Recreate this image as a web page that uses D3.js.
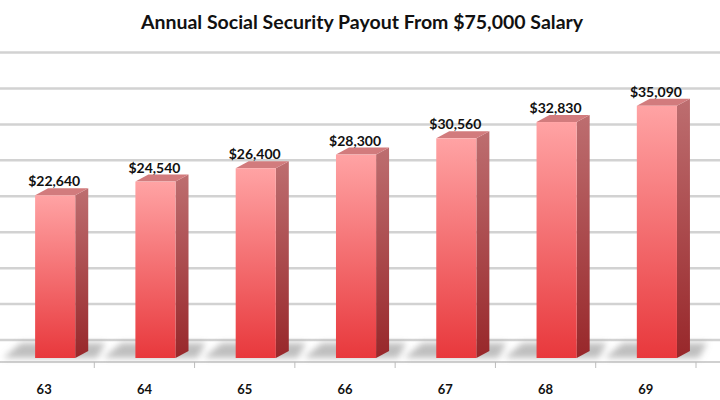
<!DOCTYPE html>
<html><head><meta charset="utf-8">
<script src="https://cdn.jsdelivr.net/npm/d3@7"></script>
<style>body{margin:0;background:#fff}</style></head><body>
<script>
const title = "Annual Social Security Payout From $75,000 Salary";
const ages = ["63","64","65","66","67","68","69"];
const payouts = [22640,24540,26400,28300,30560,32830,35090];
const gridTicks = [0,5000,10000,15000,20000,25000,30000,35000,40000];

const W = 720, H = 400;
const svg = d3.select("body").append("svg").attr("width", W).attr("height", H)
  .style("font-family", "Lato, 'Open Sans', sans-serif");
const defs = svg.append("defs");

const frontG = defs.append("linearGradient").attr("id","front").attr("x1",0).attr("y1",0).attr("x2",0).attr("y2",1);
frontG.append("stop").attr("offset","0%").attr("stop-color","#ffa3a4");
frontG.append("stop").attr("offset","100%").attr("stop-color","#e8383c");
const sideG = defs.append("linearGradient").attr("id","side").attr("x1",0).attr("y1",0).attr("x2",0).attr("y2",1);
sideG.append("stop").attr("offset","0%").attr("stop-color","#bd6e70");
sideG.append("stop").attr("offset","100%").attr("stop-color","#98272a");
const blur = defs.append("filter").attr("id","blur").attr("x","-50%").attr("y","-50%").attr("width","200%").attr("height","200%");
blur.append("feGaussianBlur").attr("stdDeviation",3);

const data = ages.map((a,i)=>({age:a, value:payouts[i]}));

const x = d3.scaleBand().domain(ages).range([-6, 696]).padding(0);
const floorFront = 358, backShift = 18, dx = 13, dy = 7;
const y = d3.scaleLinear().domain([0, 40000]).range([floorFront, floorFront - 287.5]);
const yBack = v => y(v) - backShift;

// gridlines on back wall
svg.append("g").selectAll("line").data(gridTicks).join("line")
  .attr("x1",0).attr("x2",W)
  .attr("y1",d=>yBack(d)).attr("y2",d=>yBack(d))
  .attr("stroke","#d2d2d2").attr("stroke-width",2.5);

// floor front edge and ticks
const axisY = 362;
svg.append("line").attr("x1",0).attr("x2",W).attr("y1",axisY).attr("y2",axisY)
  .attr("stroke","#d0d0d0").attr("stroke-width",2);
const tickPos = ages.map(a => x(a) + x.bandwidth());
svg.append("g").selectAll("line").data(tickPos).join("line")
  .attr("x1",d=>d).attr("x2",d=>d).attr("y1",axisY).attr("y2",axisY+6)
  .attr("stroke","#bdbdbd").attr("stroke-width",1);

const bw = x.bandwidth()*0.4;
const bx = d => x(d.age) + x.bandwidth()*0.41;

// floor shadows
svg.append("g").attr("filter","url(#blur)").selectAll("path").data(data).join("path")
  .attr("d", d => {
    const x0 = bx(d), x1 = x0 + bw;
    return `M${x0-32},${floorFront} L${x1+22},${floorFront} L${x1+30},${y(0)-backShift+3} L${x0-14},${y(0)-backShift+3}Z`;
  })
  .attr("fill","#8a8a8a").attr("opacity",0.55);

// bars
const bars = svg.append("g").selectAll("g").data(data).join("g");
bars.append("path").attr("fill","url(#side)")
  .attr("d", d => {
    const x1 = bx(d)+bw, t = y(d.value), b = y(0);
    return `M${x1},${t} L${x1+dx},${t-dy} L${x1+dx},${b-dy} L${x1},${b}Z`;
  });
bars.append("path").attr("fill","#d27b7d")
  .attr("d", d => {
    const x0 = bx(d), x1 = x0+bw, t = y(d.value);
    return `M${x0},${t} L${x0+dx},${t-dy} L${x1+dx},${t-dy} L${x1},${t}Z`;
  });
bars.append("rect").attr("fill","url(#front)")
  .attr("x", d=>bx(d)).attr("width", bw)
  .attr("y", d=>y(d.value)).attr("height", d=>y(0)-y(d.value));

// value labels
const fmt = d3.format("$,");
svg.append("g").selectAll("text").data(data).join("text")
  .attr("x", d => bx(d) + bw/2 - 1)
  .attr("y", d => y(d.value) - dy - 2)
  .attr("text-anchor","middle")
  .attr("font-size",14).attr("font-weight","bold").attr("fill","#111")
  .text(d => fmt(d.value));

// category labels
svg.append("g").selectAll("text").data(ages).join("text")
  .attr("x", a => x(a) + x.bandwidth()/2)
  .attr("y", 394)
  .attr("text-anchor","middle")
  .attr("font-size",13).attr("font-weight","bold").attr("fill","#111")
  .text(a => a);

// title
svg.append("text").attr("x",362).attr("y",29).attr("text-anchor","middle")
  .attr("font-size",19.5).attr("font-weight","bold").attr("fill","#111")
  .text(title);
</script>
</body></html>
